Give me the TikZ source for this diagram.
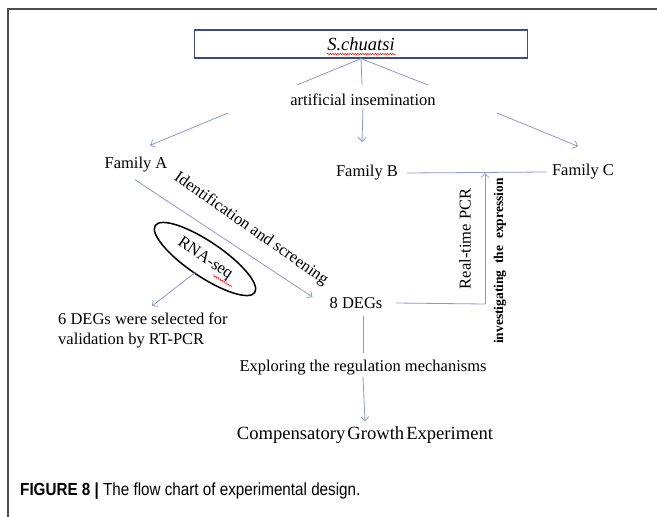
\documentclass[tikz,border=0pt]{standalone}
\usepackage{fontspec}
\setmainfont{Liberation Serif}
\setsansfont{Liberation Sans}
\usetikzlibrary{arrows.meta,shapes.geometric,decorations.pathmorphing}
\definecolor{trait}{RGB}{140,152,205}
\definecolor{cadre}{RGB}{62,76,130}
\tikzset{
  txt/.style={font=\fontsize{16.5}{19.5}\selectfont, inner sep=1pt},
  fl/.style={draw=trait, line width=0.8pt, -{Straight Barb[length=4pt,width=8pt]}},
  tr/.style={draw=trait, line width=0.8pt},
  vague/.style={red, line width=0.5pt, decorate, decoration={snake, amplitude=0.7pt, segment length=2.5pt}}
}
\begin{document}
\begin{tikzpicture}[x=1pt,y=-1pt]
\useasboundingbox (0,0) rectangle (657,517);
%cadre de la figure
\draw[line width=1.4pt, black!70] (8,517) -- (8,9) -- (657,9);

\node[txt, font=\fontsize{18.5}{21}\selectfont, draw=cadre, line width=1.2pt, minimum width=333pt, minimum height=28pt] (sp) at (361,44) {\textit{S.chuatsi}};
\draw[vague] (327,54) -- (396,54);
\node[txt] (ai) at (363,100) {artificial insemination};
\coordinate (g) at (297,85);
\coordinate (m) at (362,85);
\coordinate (d) at (428,85);
\draw[tr] (sp.south) -- (g);
\draw[tr] (sp.south) -- (m);
\draw[tr] (sp.south) -- (d);

\node[txt] (fa) at (136,165) {Family A};
\node[txt] (fb) at (367,173) {Family B};
\node[txt] (fc) at (583,172) {Family C};
\draw[fl] (228,113) -- ([xshift=14pt,yshift=11pt]fa.north);
\draw[fl] (ai.south) -- (362,142);
\draw[fl] (497,113) -- ([xshift=-5pt,yshift=17pt]fc.north);
\draw[tr] ([xshift=8pt]fb.east) -- ([xshift=-4pt]fc.west);

%familles -> DEGs
\node[txt] (deg) at (356,303) {8 DEGs};
\draw[fl] ([xshift=-1pt,yshift=-6pt]fa.south) -- ([xshift=-16pt,yshift=6pt]deg.west);
\node[txt, rotate=-35] (id) at (251,229) {Identification and screening};

\node[txt, draw=black, line width=1.5pt, ellipse, minimum width=120pt, minimum height=35pt, rotate=-34] (rna) at (205,259) {RNA-seq};
\draw[vague] (213,275) -- (232,287);
\node[txt, align=left, anchor=north west] (dv) at (57,312) {6 DEGs were selected for\\validation by RT-PCR};
\coordinate (rs) at (196,272);
\draw[fl] (rs) -- (152,306);

%PCR
\coordinate (coin) at (485,304);
\draw[tr] ([xshift=12pt]deg.east) -- (coin);
\draw[fl] (coin) -- (485,173);
\node[txt, rotate=90] (pcr) at (465,239) {Real-time PCR};
\node[font=\fontsize{13.5}{16}\selectfont\bfseries, inner sep=1pt, rotate=90] (inv) at (500,261) {investigating\ \ the\ \ expression};

%regulation
\node[txt] (ex) at (363,368) {Exploring the regulation mechanisms};
\node[txt, font=\fontsize{18.6}{21}\selectfont] (cg) at (365,435) {Compensatory\hspace{2pt}Growth\hspace{2pt}Experiment};
\draw[tr, shorten <=6pt, shorten >=6pt] (ex.north |- deg.south) -- (ex.north);
\draw[fl] (ex.south) -- ([yshift=4pt]cg.north);

\node[anchor=west, inner sep=0pt, font=\sffamily\fontsize{17.5}{20}\selectfont] (cap) at (20,491) {\scalebox{0.87}[1]{\textbf{FIGURE 8 |} The flow chart of experimental design.}};
\end{tikzpicture}
\end{document}
